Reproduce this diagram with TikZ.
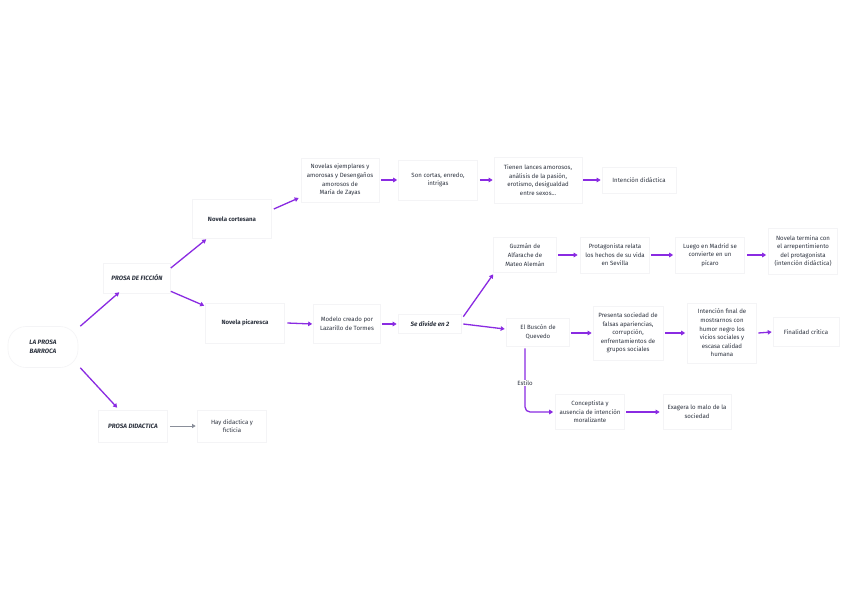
\documentclass[tikz,border=0pt]{standalone}
\usepackage{fontspec}
\setmainfont{Fira Sans}
\usetikzlibrary{arrows.meta}
\definecolor{arr}{HTML}{8A2BE2}
\definecolor{txt}{HTML}{2E3440}
\definecolor{bord}{HTML}{F4F4F6}
\definecolor{garr}{HTML}{8A8F9A}
\tikzset{
  box/.style={draw=bord, line width=0.6pt, fill=white, align=center, text=txt,
    font=\fontsize{6.1}{8.6}\selectfont, inner sep=0pt},
  bbox/.style={box, font=\fontsize{6.1}{8.6}\selectfont\bfseries},
  ibox/.style={box, font=\fontsize{6.3}{9.4}\selectfont\bfseries\itshape},
  link/.style={draw=arr, line width=1.3pt, -{Triangle[length=4pt,width=4.5pt]}},
  glink/.style={draw=garr, line width=1pt, -{Triangle[length=3.5pt,width=4pt]}},
}
\begin{document}
\begin{tikzpicture}[x=1pt,y=-1pt]
\useasboundingbox (0,0) rectangle (848,599);
\fill[white] (0,0) rectangle (848,599);
% nodes
\node[ibox, minimum width=70pt, minimum height=41pt, rounded corners=18pt] (root) at (43,347) {LA PROSA\\BARROCA};
\node[ibox, minimum width=67pt, minimum height=30pt] (ficcion) at (137,278) {PROSA DE FICCIÓN};
\node[bbox, minimum width=79pt, minimum height=39pt] (cortesana) at (232,219) {Novela cortesana};
\node[bbox, minimum width=79pt, minimum height=40pt] (picaresca) at (245,323) {Novela picaresca};
\node[ibox, minimum width=69pt, minimum height=32pt] (didactica) at (133,426) {PROSA DIDACTICA};
\node[box, minimum width=69pt, minimum height=32pt] (hay) at (232,426) {Hay didactica y\\ficticia};
\node[box, minimum width=78pt, minimum height=44pt] (ejemplares) at (340,180) {Novelas ejemplares y\\amorosas y Desengaños\\amorosos de\\María de Zayas};
\node[box, minimum width=79pt, minimum height=40pt] (cortas) at (438,180) {Son cortas, enredo,\\intrigas};
\node[box, minimum width=88pt, minimum height=46pt] (lances) at (538,180) {Tienen lances amorosos,\\análisis de la pasión,\\erotismo, desigualdad\\entre sexos...};
\node[box, minimum width=74pt, minimum height=26pt] (intdid) at (639,180) {Intención didáctica};
\node[box, minimum width=67pt, minimum height=39pt] (modelo) at (347,324) {Modelo creado por\\Lazarillo de Tormes};
\node[ibox, minimum width=63pt, minimum height=19pt] (divide) at (430,324) {Se divide en 2};
\node[box, minimum width=63pt, minimum height=35pt] (guzman) at (525,255) {Guzmán de\\Alfarache de\\Mateo Alemán};
\node[box, minimum width=69pt, minimum height=36pt] (protag) at (615,255) {Protagonista relata\\los hechos de su vida\\en Sevilla};
\node[box, minimum width=69pt, minimum height=36pt] (luego) at (710,255) {Luego en Madrid se\\convierte en un\\pícaro};
\node[box, minimum width=69pt, minimum height=46pt] (termina) at (803,251) {Novela termina con\\el arrepentimiento\\del protagonista\\(intención didáctica)};
\node[box, minimum width=63pt, minimum height=28pt] (buscon) at (538,332) {El Buscón de\\Quevedo};
\node[box, minimum width=70pt, minimum height=54pt] (presenta) at (628,333) {Presenta sociedad de\\falsas apariencias,\\corrupción,\\enfrentamientos de\\grupos sociales};
\node[box, minimum width=69pt, minimum height=60pt] (intfinal) at (722,333) {Intención final de\\mostrarnos con\\humor negro los\\vicios sociales y\\escasa calidad\\humana};
\node[box, minimum width=66pt, minimum height=29pt] (finalidad) at (806,332) {Finalidad crítica};
\node[box, minimum width=69pt, minimum height=35pt] (conceptista) at (590,412) {Conceptista y\\ausencia de intención\\moralizante};
\node[box, minimum width=68pt, minimum height=35pt] (exagera) at (697,412) {Exagera lo malo de la\\sociedad};
% connectors
\draw[link] ([xshift=2pt]root.north east) -- ([xshift=16pt,yshift=1pt]ficcion.south west);
\draw[link] ([xshift=2pt]root.south east) -- ([xshift=19pt,yshift=2pt]didactica.north west);
\draw[link] ([yshift=10pt]ficcion.east) -- ([xshift=14pt,yshift=-0.5pt]cortesana.south west);
\draw[link] ([yshift=2pt]ficcion.south east) -- ([xshift=-1pt,yshift=-3pt]picaresca.north west);
\draw[glink] ([xshift=2pt]didactica.east) -- ([xshift=-1.5pt]hay.west);
\draw[link] ([xshift=2pt,yshift=10pt]cortesana.east) -- ([xshift=-2pt,yshift=-18pt]ejemplares.west);
\draw[link] ([xshift=2pt]ejemplares.east) -- ([xshift=-1pt]cortas.west);
\draw[link] ([xshift=2pt]cortas.east) -- ([xshift=-1pt]lances.west);
\draw[link] ([xshift=1pt]lances.east) -- ([xshift=-1pt]intdid.west);
\draw[link] ([xshift=2.5pt]picaresca.east) -- ([xshift=-1pt]modelo.west);
\draw[link] ([xshift=1pt]modelo.east) -- ([xshift=-1.5pt]divide.west);
\draw[link] ([xshift=1.5pt,yshift=-2.5pt]divide.north east) -- ([yshift=-1.5pt]guzman.south west);
\draw[link] ([xshift=1.5pt]divide.east) -- ([xshift=-1.5pt,yshift=3pt]buscon.west);
\draw[link] ([xshift=1.5pt]guzman.east) -- ([xshift=-2.5pt]protag.west);
\draw[link] ([xshift=1.5pt]protag.east) -- ([xshift=-2pt]luego.west);
\draw[link] ([xshift=2.5pt]luego.east) -- ([xshift=-2pt,yshift=-4pt]termina.west);
\draw[link] ([xshift=1.5pt,yshift=-1pt]buscon.east) -- ([xshift=-1pt]presenta.west);
\draw[link] ([xshift=1.5pt]presenta.east) -- ([xshift=-2pt]intfinal.west);
\draw[link] ([xshift=1.5pt]intfinal.east) -- ([xshift=-1pt]finalidad.west);
\draw[link] ([xshift=1.5pt]conceptista.east) -- ([xshift=-3pt]exagera.west);
\draw[link, rounded corners=5pt] ([xshift=-13pt,yshift=-2pt]buscon.south) |- ([xshift=-2pt]conceptista.west);
\node[fill=white, text=txt, font=\fontsize{6.1}{7}\selectfont, inner sep=1pt] (estilo) at (525,383) {Estilo};
\end{tikzpicture}
\end{document}
